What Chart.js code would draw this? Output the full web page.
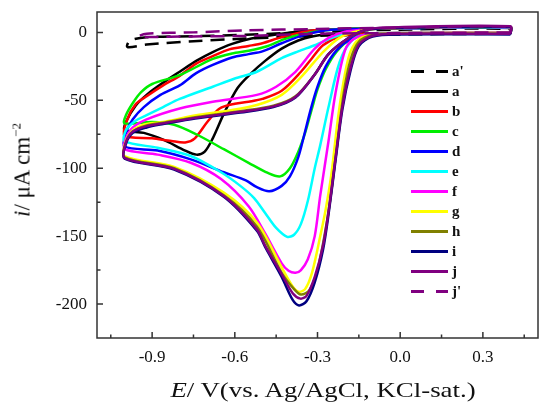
<!DOCTYPE html>
<html>
<head>
<meta charset="utf-8">
<script src="https://cdn.jsdelivr.net/npm/chart.js@4.4.1/dist/chart.umd.min.js"></script>
<style>
  body { margin: 0; background: #fff; }
  #wrap { position: relative; width: 539px; height: 402px; font-family: "Liberation Serif", "Times New Roman", serif; color: #111; }
  #cv { position: absolute; left: 0; top: 0; }
  .xtitle { position: absolute; left: 323px; top: 390px; transform: translate(-50%, -50%) scaleX(1.22); font-size: 22px; white-space: nowrap; }
  .ytitle { position: absolute; left: 22px; top: 170px; transform: translate(-50%, -50%) rotate(-90deg); font-size: 23px; white-space: nowrap; }
  .ytitle sup { font-size: 13px; vertical-align: 9px; }
  #legend { position: absolute; left: 411px; top: 61px; }
  .row { height: 20px; display: flex; align-items: center; font-weight: bold; font-size: 15px; }
  .swatch { width: 37px; height: 3px; margin-right: 4px; }
</style>
</head>
<body>
<div id="wrap">
  <canvas id="cv" width="539" height="402"></canvas>
  <div class="ytitle"><i>i</i>/ μA cm<sup>−2</sup></div>
  <div class="xtitle"><i>E</i>/ V(vs. Ag/AgCl, KCl-sat.)</div>
  <div id="legend"></div>
</div>
<script>
// tick positions
const xMajorTicks = [-0.9, -0.6, -0.3, 0.0, 0.3]
const xMinorTicks = [-1.05, -0.75, -0.45, -0.15, 0.15, 0.45]
const yMajorTicks = [0, -50, -100, -150, -200]
const yMinorTicks = [-25, -75, -125, -175]

const labels = ["a'", "a", "b", "c", "d", "e", "f", "g", "h", "i", "j", "j'"]
const colors = ["#000000", "#000000", "#ff0000", "#00ee00", "#0000ff", "#00ffff", "#ff00ff", "#ffff00", "#808000", "#000080", "#800080", "#800080"]
const dashed = [true, false, false, false, false, false, false, false, false, false, false, true]

// each curve: [E (V), i (uA cm-2)] around the loop, cathodic sweep first
const aBlank = [[0.4,-1],[0.0,-1.5],[-0.3,-2.5],[-0.56,-4.6],[-0.75,-6.5],[-0.92,-9],[-0.99,-10.8],[-0.98,-6],[-0.92,-3.6],[-0.75,-2.8],[-0.56,-1.8],[-0.3,0.5],[0.0,2],[0.4,2.5],[0.4,-1]]
const curveA = [[0.4,-0.5],[0.1,-0.5],[-0.1,-0.6],[-0.25,-1],[-0.32,-3],[-0.37,-6],[-0.43,-12],[-0.49,-21],[-0.54,-30],[-0.59,-41],[-0.64,-60],[-0.68,-78],[-0.71,-88],[-0.74,-90],[-0.78,-87],[-0.86,-79],[-0.93,-74],[-1.0,-72],
  [-0.995,-66],[-0.96,-54],[-0.92,-46],[-0.86,-37],[-0.8,-29],[-0.74,-21],[-0.68,-14.5],[-0.61,-8.5],[-0.54,-4.5],[-0.45,-1.5],[-0.35,1],[-0.2,2.5],[0.0,3],[0.4,3.2],[0.4,-0.5]]
const curveB = [[0.4,-0.5],[0.0,-0.6],[-0.15,-1],[-0.22,-3],[-0.28,-9.5],[-0.32,-19],[-0.36,-29],[-0.43,-43],[-0.5,-49],[-0.55,-51],[-0.6,-52.5],[-0.655,-56],[-0.7,-66],[-0.745,-78],[-0.78,-81],[-0.83,-80],[-0.9,-78],[-1.0,-76],
  [-0.99,-64],[-0.96,-53],[-0.92,-47],[-0.86,-39],[-0.8,-32],[-0.74,-23],[-0.68,-17.5],[-0.62,-12.5],[-0.55,-10],[-0.5,-8],[-0.43,-3.5],[-0.33,1],[-0.2,2.5],[0.0,3.2],[0.4,3.5],[0.4,-0.5]]
const curveC = [[0.4,-0.5],[0.0,-0.8],[-0.12,-1.5],[-0.18,-5],[-0.23,-14],[-0.27,-27],[-0.3,-42],[-0.32,-56],[-0.345,-74],[-0.37,-88],[-0.4,-100],[-0.435,-106],[-0.48,-103.5],[-0.55,-96],[-0.64,-86],[-0.74,-75],[-0.82,-68],[-0.9,-66],[-1.0,-67],
  [-0.995,-61],[-0.97,-52],[-0.94,-44],[-0.9,-38],[-0.8,-31.5],[-0.68,-19.5],[-0.61,-15.5],[-0.55,-13.5],[-0.48,-10],[-0.42,-5],[-0.35,-1],[-0.25,2],[0.0,3.2],[0.4,3.5],[0.4,-0.5]]
const curveD = [[0.4,-1],[0.0,-1],[-0.12,-1.5],[-0.18,-5],[-0.23,-13],[-0.27,-25],[-0.3,-40],[-0.325,-57],[-0.35,-77],[-0.37,-92],[-0.4,-106],[-0.43,-113],[-0.475,-117],[-0.52,-114],[-0.56,-109],[-0.64,-103],[-0.76,-93.5],[-0.88,-87],[-1.0,-84],
  [-0.995,-74],[-0.97,-64],[-0.93,-55],[-0.87,-46],[-0.8,-39],[-0.74,-30],[-0.68,-24],[-0.61,-18.5],[-0.55,-16],[-0.5,-14],[-0.43,-8],[-0.35,-2],[-0.25,2],[0.0,3],[0.4,3.5],[0.4,-1]]
const curveE = [[0.4,-1],[0.0,-1],[-0.13,-2],[-0.18,-7],[-0.22,-22],[-0.26,-55],[-0.29,-83],[-0.31,-100],[-0.335,-124],[-0.36,-141],[-0.385,-149],[-0.41,-150.5],[-0.45,-144],[-0.49,-133],[-0.53,-122],[-0.58,-113],[-0.65,-103],[-0.76,-91],[-0.88,-85],[-1.0,-80],
  [-0.995,-72],[-0.96,-65],[-0.92,-61],[-0.86,-55],[-0.8,-49],[-0.68,-40],[-0.6,-34],[-0.52,-29],[-0.43,-19],[-0.37,-14],[-0.31,-9.5],[-0.22,-2],[-0.12,2],[0.0,3],[0.4,3.5],[0.4,-1]]
const curveF = [[0.4,-1],[0.0,-1],[-0.12,-1.5],[-0.17,-5],[-0.2,-13],[-0.235,-45],[-0.26,-80],[-0.29,-120],[-0.31,-150],[-0.335,-167],[-0.36,-175],[-0.38,-177],[-0.405,-175.5],[-0.43,-170],[-0.49,-148],[-0.55,-128],[-0.65,-108],[-0.76,-96],[-0.88,-90],[-1.0,-86],
  [-0.995,-78],[-0.97,-70],[-0.92,-64],[-0.8,-56],[-0.68,-51],[-0.52,-46],[-0.45,-40],[-0.38,-29],[-0.31,-12],[-0.26,-4],[-0.2,0.5],[-0.1,2.5],[0.0,3.2],[0.4,3.8],[0.4,-1]]
const curveG = [[0.4,-1],[0.0,-1],[-0.1,-1.5],[-0.15,-5],[-0.18,-14],[-0.2,-30],[-0.225,-62],[-0.25,-105],[-0.27,-130],[-0.29,-150],[-0.32,-177],[-0.345,-189],[-0.367,-191],[-0.39,-187],[-0.43,-173],[-0.52,-140],[-0.64,-118],[-0.82,-99],[-1.0,-91],
  [-0.995,-80],[-0.97,-72],[-0.92,-67.5],[-0.86,-66],[-0.74,-61],[-0.62,-57.5],[-0.52,-53.5],[-0.43,-46],[-0.36,-33],[-0.28,-14.5],[-0.22,-4],[-0.15,1],[-0.05,3],[0.4,4],[0.4,-1]]
const curveH = [[0.4,-1],[0.0,-1],[-0.1,-2],[-0.15,-7],[-0.18,-20],[-0.205,-45],[-0.23,-85],[-0.255,-125],[-0.275,-150],[-0.3,-175],[-0.33,-190],[-0.36,-193],[-0.385,-189],[-0.43,-177],[-0.52,-143],[-0.64,-120],[-0.82,-100],[-1.0,-92],
  [-0.995,-81],[-0.97,-73],[-0.92,-68.5],[-0.86,-66.5],[-0.76,-63],[-0.58,-58],[-0.46,-54],[-0.38,-47],[-0.31,-31],[-0.26,-16],[-0.19,-4.5],[-0.13,1.5],[-0.05,3],[0.4,4],[0.4,-1]]
const curveI = [[0.4,-1.5],[0.0,-1.5],[-0.1,-3],[-0.15,-10],[-0.18,-28],[-0.21,-57],[-0.235,-95],[-0.26,-134],[-0.28,-160],[-0.31,-184],[-0.34,-198],[-0.367,-201],[-0.39,-197],[-0.43,-180],[-0.49,-158],[-0.52,-146],[-0.64,-121],[-0.82,-101],[-1.0,-93],
  [-0.995,-82],[-0.97,-74],[-0.92,-70],[-0.86,-67.5],[-0.76,-64],[-0.58,-59],[-0.46,-55],[-0.38,-48],[-0.31,-31],[-0.26,-16],[-0.19,-4.5],[-0.13,1.5],[-0.05,3],[0.4,4],[0.4,-1.5]]
const curveJ = [[0.4,-1],[0.0,-1],[-0.1,-2.5],[-0.15,-9],[-0.18,-26],[-0.21,-55],[-0.235,-93],[-0.26,-132],[-0.28,-157],[-0.31,-180],[-0.34,-194],[-0.362,-196],[-0.39,-192],[-0.43,-178],[-0.49,-157],[-0.52,-145],[-0.64,-120.5],[-0.82,-100.5],[-1.0,-92.5],
  [-0.995,-81],[-0.97,-73],[-0.92,-69],[-0.86,-67],[-0.76,-63.5],[-0.58,-58.5],[-0.46,-54.5],[-0.38,-47.5],[-0.31,-31],[-0.26,-16],[-0.19,-4.5],[-0.13,1.5],[-0.05,3.5],[0.4,4.5],[0.4,-1]]
const jBlank = [[0.4,0],[0.0,-0.5],[-0.3,-1],[-0.56,-2.6],[-0.75,-3],[-0.92,-3.4],[-0.95,-3],[-0.92,-1],[-0.75,0],[-0.56,1.5],[-0.3,2.5],[0.0,3.5],[0.4,4.2],[0.4,0]]

const curves = [aBlank, curveA, curveB, curveC, curveD, curveE, curveF, curveG, curveH, curveI, curveJ, jBlank]

const datasets = curves.map((c, idx) => ({
    label: labels[idx],
    data: c.map(p => ({x: p[0], y: p[1]})),
    showLine: true,
    borderColor: colors[idx],
    backgroundColor: colors[idx],
    borderWidth: 2.5,
    borderDash: dashed[idx] ? [14, 8] : [],
    pointRadius: 0,
    tension: 0.3,
    fill: false,
    order: curves.length - 1 - idx
}))

// frame round the plot and inward tick marks
const frameTicks = {
    id: 'frameTicks',
    afterDraw(chart) {
        const ctx = chart.ctx
        const a = chart.chartArea
        const x = chart.scales.x
        const y = chart.scales.y
        ctx.save()
        ctx.strokeStyle = '#333'
        ctx.lineWidth = 1.5
        ctx.strokeRect(a.left, a.top, a.right - a.left, a.bottom - a.top)
        ctx.beginPath()
        xMajorTicks.forEach(v => { const px = x.getPixelForValue(v); ctx.moveTo(px, a.bottom); ctx.lineTo(px, a.bottom - 6) })
        xMinorTicks.forEach(v => { const px = x.getPixelForValue(v); ctx.moveTo(px, a.bottom); ctx.lineTo(px, a.bottom - 3.5) })
        yMajorTicks.forEach(v => { const py = y.getPixelForValue(v); ctx.moveTo(a.left, py); ctx.lineTo(a.left + 6, py) })
        yMinorTicks.forEach(v => { const py = y.getPixelForValue(v); ctx.moveTo(a.left, py); ctx.lineTo(a.left + 3.5, py) })
        ctx.stroke()
        ctx.restore()
    }
}

const tickFont = {family: 'Liberation Serif', size: 17}

new Chart(document.getElementById('cv'), {
    type: 'scatter',
    data: {datasets: datasets},
    options: {
        responsive: false,
        animation: false,
        layout: {padding: {top: 12, right: 1, left: 0, bottom: 0}},
        plugins: {legend: {display: false}, tooltip: {enabled: false}},
        scales: {
            x: {
                type: 'linear', min: -1.1, max: 0.5,
                afterFit(s) { s.height = 64; s.paddingLeft = 0; s.paddingRight = 0 },
                afterBuildTicks(s) { s.ticks = xMajorTicks.map(v => ({value: v})) },
                grid: {display: false, drawTicks: false},
                border: {display: false},
                ticks: {padding: 9, color: '#111', font: tickFont, callback: v => v.toFixed(1)}
            },
            y: {
                type: 'linear', min: -225, max: 15,
                afterFit(s) { s.width = 97; s.paddingTop = 0; s.paddingBottom = 0 },
                afterBuildTicks(s) { s.ticks = yMajorTicks.map(v => ({value: v})) },
                grid: {display: false, drawTicks: false},
                border: {display: false},
                ticks: {padding: 10, color: '#111', font: tickFont, callback: v => String(v)}
            }
        }
    },
    plugins: [frameTicks]
})

// legend
const legend = document.getElementById('legend')
labels.forEach((lab, idx) => {
    const row = document.createElement('div')
    row.className = 'row'
    const sw = document.createElement('span')
    sw.className = 'swatch'
    const c = colors[idx]
    sw.style.background = dashed[idx]
        ? `linear-gradient(to right, ${c} 0 13px, transparent 13px 25px, ${c} 25px 37px)`
        : c
    row.appendChild(sw)
    const t = document.createElement('span')
    t.textContent = lab
    row.appendChild(t)
    legend.appendChild(row)
})
</script>
</body>
</html>
